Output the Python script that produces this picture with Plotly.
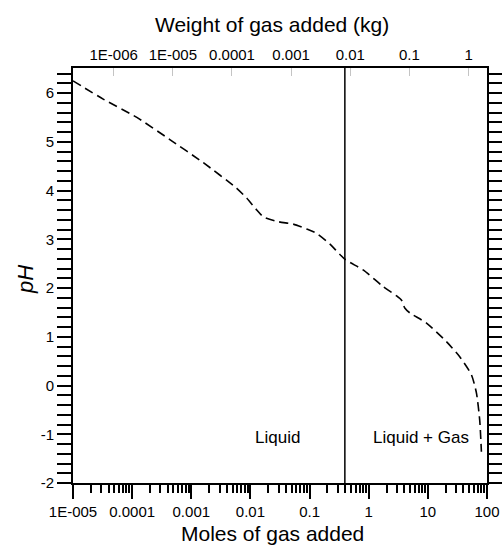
import plotly.graph_objects as go
import numpy as np

# Data
moles = [1.0e-5, 3.29e-5, 1.2e-4, 4.4e-4, 1.6e-3, 5.87e-3, 8.7e-3, 0.0128, 0.0165,
         0.0296, 0.0531, 0.0893, 0.132, 0.221, 0.395, 0.805, 1.75, 2.95, 3.59,
         4.07, 4.95, 9.48, 20.6, 34.6, 54.5, 66.2, 75.3, 80.4]
ph = [6.25, 5.87, 5.50, 5.04, 4.57, 4.045, 3.84, 3.60, 3.46,
      3.36, 3.31, 3.21, 3.12, 2.90, 2.59, 2.37, 2.03, 1.84, 1.75,
      1.59, 1.49, 1.28, 0.90, 0.59, 0.22, -0.15, -0.71, -1.36]
phase_boundary = 0.395          # moles, vertical line
molar_mass = 0.0205             # kg per mole (top axis scaling)

bottom_tickvals = [1e-5, 1e-4, 1e-3, 1e-2, 1e-1, 1, 10, 100]
bottom_ticktext = ["1E-005", "0.0001", "0.001", "0.01", "0.1", "1", "10", "100"]
top_tickvals = [1e-6, 1e-5, 1e-4, 1e-3, 1e-2, 1e-1, 1]
top_ticktext = ["1E-006", "1E-005", "0.0001", "0.001", "0.01", "0.1", "1"]
y_tickvals = [-2, -1, 0, 1, 2, 3, 4, 5, 6]
y_ticktext = ["-2", "-1", "0", "1", "2", "3", "4", "5", "6"]

FONT = "Liberation Sans, Arial, sans-serif"

minor_vals = [k * 10.0 ** e for e in range(-5, 2) for k in range(2, 10)]

L, R, T, B = 73, 15, 68, 62
W, H = 502, 545
PW, PH = W - L - R, H - T - B

fig = go.Figure()
fig.add_trace(go.Scatter(
    x=moles, y=ph, mode="lines",
    line=dict(color="black", width=1.6, dash="9px,5px", shape="spline", smoothing=0.6),
    hoverinfo="skip", showlegend=False))
# invisible trace to anchor the top (weight) axis
fig.add_trace(go.Scatter(
    x=[m * molar_mass for m in moles], y=ph, xaxis="x2", mode="lines",
    line=dict(width=0), opacity=0, hoverinfo="skip", showlegend=False))

fig.add_vline(x=phase_boundary, line=dict(color="black", width=1.5))

fig.update_layout(
    width=W, height=H,
    margin=dict(l=L, r=R, t=T, b=B, autoexpand=False),
    plot_bgcolor="white", paper_bgcolor="white",
    font=dict(family=FONT, color="black", size=15),
    xaxis=dict(
        type="log", range=[-5, 2],
        tickmode="array", tickvals=bottom_tickvals, ticktext=bottom_ticktext,
        ticks="outside", ticklen=14, tickwidth=2, tickcolor="black",
        showline=True, linewidth=2, linecolor="black", mirror=True,
        showgrid=False, zeroline=False,
        tickfont=dict(size=15),
        minor=dict(tickvals=minor_vals, ticks="outside", ticklen=8,
                   tickwidth=2, tickcolor="black", showgrid=False),
    ),
    xaxis2=dict(
        type="log", range=[-6.688, 0.312], overlaying="x", side="top", anchor="y",
        tickmode="array", tickvals=top_tickvals, ticktext=top_ticktext,
        ticks="inside", ticklen=8, tickwidth=1, tickcolor="#c4c4c4",
        showline=False, showgrid=False, zeroline=False,
        tickfont=dict(size=15), ticklabelstandoff=4,
    ),
    yaxis=dict(
        range=[-2, 6.513], tickmode="array", tickvals=y_tickvals, ticktext=y_ticktext,
        ticks="outside", ticklen=14, tickwidth=2, tickcolor="black",
        showline=True, linewidth=2, linecolor="black", mirror="allticks",
        showgrid=False, zeroline=False,
        tickfont=dict(size=15),
        minor=dict(dtick=0.2, tick0=0, ticks="outside", ticklen=8,
                   tickwidth=2, tickcolor="black", showgrid=False),
    ),
    annotations=[
        dict(text="Weight of gas added (kg)", xref="paper", yref="paper",
             x=(272 - L) / PW, y=1 + (T - 25) / PH,
             xanchor="center", yanchor="middle", showarrow=False,
             font=dict(size=21)),
        dict(text="Moles of gas added", xref="paper", yref="paper",
             x=(272 - L) / PW, y=-(533 - (H - B)) / PH,
             xanchor="center", yanchor="middle", showarrow=False,
             font=dict(size=21)),
        dict(text="<i>pH</i>", xref="paper", yref="paper",
             x=-(L - 25) / PW, y=((H - B) - 280) / PH,
             xanchor="center", yanchor="middle", showarrow=False, textangle=-90,
             font=dict(size=22)),
        dict(text="Liquid", x=np.log10(0.029), y=-1.06, xref="x", yref="y",
             showarrow=False, font=dict(size=17)),
        dict(text="Liquid + Gas", x=np.log10(7.8), y=-1.06, xref="x", yref="y",
             showarrow=False, font=dict(size=17)),
    ],
)

fig.write_html("out.html")
